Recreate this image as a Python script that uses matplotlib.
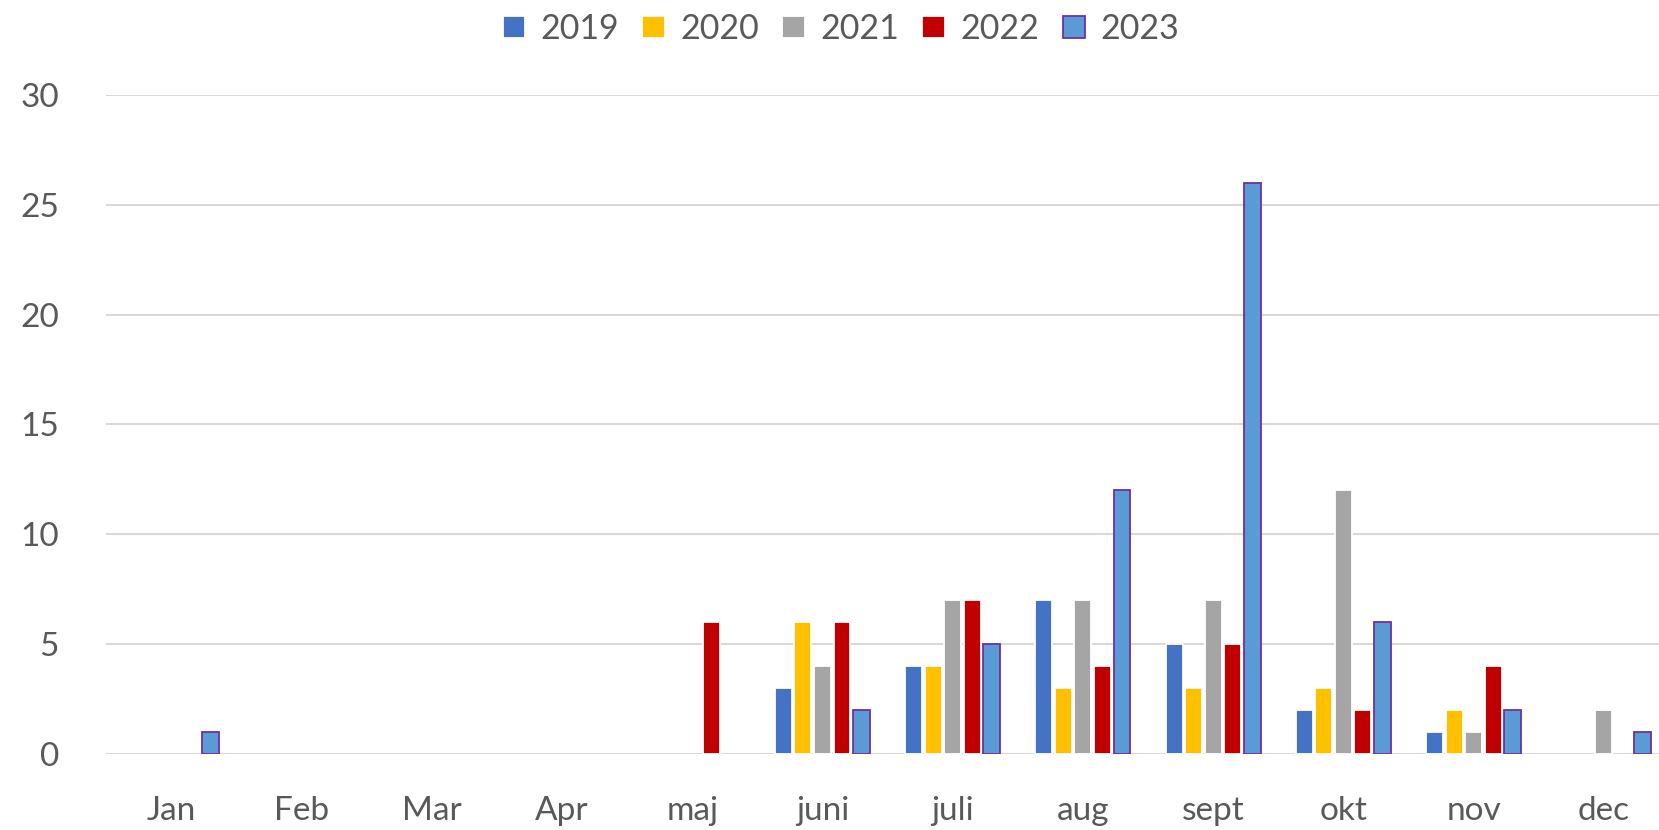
import numpy as np
import matplotlib.pyplot as plt

plt.rcParams['font.family'] = ['Lato', 'DejaVu Sans']

months = ['Jan', 'Feb', 'Mar', 'Apr', 'maj', 'juni', 'juli', 'aug', 'sept', 'okt', 'nov', 'dec']
years = ['2019', '2020', '2021', '2022', '2023']

v2019 = [0, 0, 0, 0, 0, 3, 4, 7, 5, 2, 1, 0]
v2020 = [0, 0, 0, 0, 0, 6, 4, 3, 3, 3, 2, 0]
v2021 = [0, 0, 0, 0, 0, 4, 7, 7, 7, 12, 1, 2]
v2022 = [0, 0, 0, 0, 6, 6, 7, 4, 5, 2, 4, 0]
v2023 = [1, 0, 0, 0, 0, 2, 5, 12, 26, 6, 2, 1]

series = [v2019, v2020, v2021, v2022, v2023]
colors = ['#4472C4', '#FFC000', '#A5A5A5', '#C00000', '#5B9BD5']
edges = ['white', 'white', 'white', 'white', '#7030A0']

fig = plt.figure(figsize=(16.59, 8.3), dpi=100)
ax = fig.add_axes([0.064, 0.0916, 0.942, 0.794])

x = np.arange(len(months))
step = 0.15
for i, (vals, c, ec) in enumerate(zip(series, colors, edges)):
    # zero values get no bar (Excel draws nothing there)
    h = np.array(vals, dtype=float)
    h[h == 0] = np.nan
    ax.bar(x + (i - 2) * step, h, width=0.13, color=c, edgecolor=ec,
           linewidth=1.3, label=years[i], zorder=3)

ax.set_xlim(-0.5, 11.5)
ax.set_ylim(0, 30)
ax.set_yticks(range(0, 31, 5))
ax.grid(axis='y', color='#D9D9D9', linewidth=1.5, zorder=0)
for s in ax.spines.values():
    s.set_visible(False)
ax.tick_params(length=0, labelsize=24, labelcolor='#595959')
ax.tick_params(axis='y', pad=34)
ax.tick_params(axis='x', pad=30)
ax.set_xticks(x)
ax.set_xticklabels(months)

ax.legend(loc='center', bbox_to_anchor=(0.47, 1.10), ncol=5, frameon=False,
          fontsize=24.5, labelcolor='#595959', handlelength=0.65, handleheight=0.65,
          handletextpad=0.45, columnspacing=0.7)

fig.savefig('out.png', dpi=100)
